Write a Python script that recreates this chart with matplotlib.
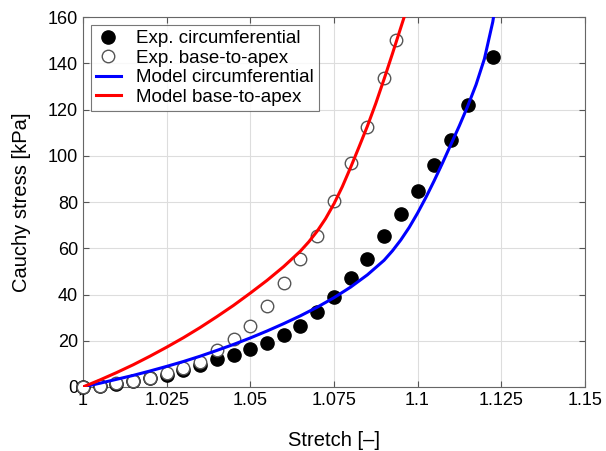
import matplotlib.pyplot as plt
import numpy as np

plt.rcParams['font.family'] = ['Liberation Sans', 'DejaVu Sans']

# experimental data
x_circ = [1.0, 1.005, 1.01, 1.015, 1.02, 1.025, 1.03, 1.035, 1.04, 1.045, 1.05, 1.055,
          1.06, 1.065, 1.07, 1.075, 1.08, 1.085, 1.09, 1.095, 1.1, 1.105, 1.11, 1.115, 1.1225]
y_circ = [0, 0.5, 1.3, 2.4, 3.8, 5.2, 7.3, 9.5, 12.0, 13.9, 16.4, 19.0,
          22.3, 26.5, 32.6, 38.9, 47.2, 55.5, 65.1, 74.8, 84.9, 96.1, 106.7, 122.2, 142.9]

x_base = [1.0, 1.005, 1.01, 1.015, 1.02, 1.025, 1.03, 1.035, 1.04, 1.045, 1.05, 1.055,
          1.06, 1.065, 1.07, 1.075, 1.08, 1.085, 1.09, 1.0935]
y_base = [0, 0.6, 1.7, 2.6, 4.0, 6.2, 8.1, 11.0, 15.8, 20.7, 26.5, 34.9,
          45.1, 55.2, 65.1, 80.5, 96.7, 112.5, 133.8, 150.0]

# model curves
xm_circ = [1.0, 1.005, 1.01, 1.015, 1.02, 1.025, 1.03, 1.035, 1.04, 1.045, 1.05, 1.055, 1.06,
           1.065, 1.07, 1.075, 1.08, 1.085, 1.09, 1.0925, 1.095, 1.0975, 1.1, 1.1025, 1.105,
           1.1075, 1.11, 1.1125, 1.115, 1.1175, 1.12, 1.1225, 1.124]
ym_circ = [0, 1.6, 3.3, 5.0, 6.9, 8.9, 11.0, 13.3, 15.8, 18.4, 21.2, 24.2, 27.4,
           30.8, 34.5, 38.6, 43.2, 48.5, 54.8, 58.9, 63.6, 69.0, 75.2, 82.0, 89.3,
           97.0, 105.0, 113.0, 121.5, 130.8, 142.0, 158.0, 172.0]

xm_base = [1.0, 1.005, 1.01, 1.015, 1.02, 1.025, 1.03, 1.035, 1.04, 1.045, 1.05, 1.055, 1.06,
           1.065, 1.0675, 1.07, 1.0725, 1.075, 1.0775, 1.08, 1.0825, 1.085, 1.0875, 1.09,
           1.0925, 1.095, 1.098]
ym_base = [0, 3.0, 6.2, 9.6, 13.3, 17.2, 21.3, 25.7, 30.4, 35.3, 40.6, 46.1, 52.1,
           58.8, 62.8, 67.4, 72.8, 79.2, 86.6, 95.0, 103.8, 112.8, 122.6, 133.2,
           144.2, 155.5, 169.0]

xticks = [1, 1.025, 1.05, 1.075, 1.1, 1.125, 1.15]
xtick_labels = ['1', '1.025', '1.05', '1.075', '1.1', '1.125', '1.15']
yticks = [0, 20, 40, 60, 80, 100, 120, 140, 160]

fig = plt.figure(figsize=(6.06, 4.51), dpi=100)
ax = fig.add_axes([0.137, 0.142, 0.828, 0.820])

ax.plot(x_circ, y_circ, 'o', color='black', markersize=9.5, zorder=3, clip_on=False,
        label='Exp. circumferential')
ax.plot(x_base, y_base, 'o', markerfacecolor='white', markeredgecolor='#555555',
        markeredgewidth=1.0, markersize=9, zorder=4, clip_on=False,
        label='Exp. base-to-apex')
ax.plot(xm_circ, ym_circ, '-', color='#0000ff', linewidth=2.2, zorder=5,
        label='Model circumferential')
ax.plot(xm_base, ym_base, '-', color='#ff0000', linewidth=2.2, zorder=5,
        label='Model base-to-apex')

ax.set_xlim(1, 1.15)
ax.set_ylim(0, 160)
ax.set_xticks(xticks)
ax.set_xticklabels(xtick_labels)
ax.set_yticks(yticks)
ax.tick_params(direction='in', top=True, right=True, labelsize=13, length=4,
               color='#555555')
ax.grid(True, color='#dddddd', linewidth=0.8)
ax.set_axisbelow(True)
for s in ax.spines.values():
    s.set_color('#666666')

ax.set_xlabel('Stretch [–]', fontsize=14.5, labelpad=16)
ax.set_ylabel('Cauchy stress [kPa]', fontsize=14.5, labelpad=12)

leg = ax.legend(loc='upper left', fontsize=13.5, frameon=True, fancybox=False,
                edgecolor='#555555', handlelength=1.3, handletextpad=0.8,
                borderpad=0.3, labelspacing=0.12, borderaxespad=0.4)
leg.get_frame().set_linewidth(0.8)

fig.savefig('out.png', dpi=100)
